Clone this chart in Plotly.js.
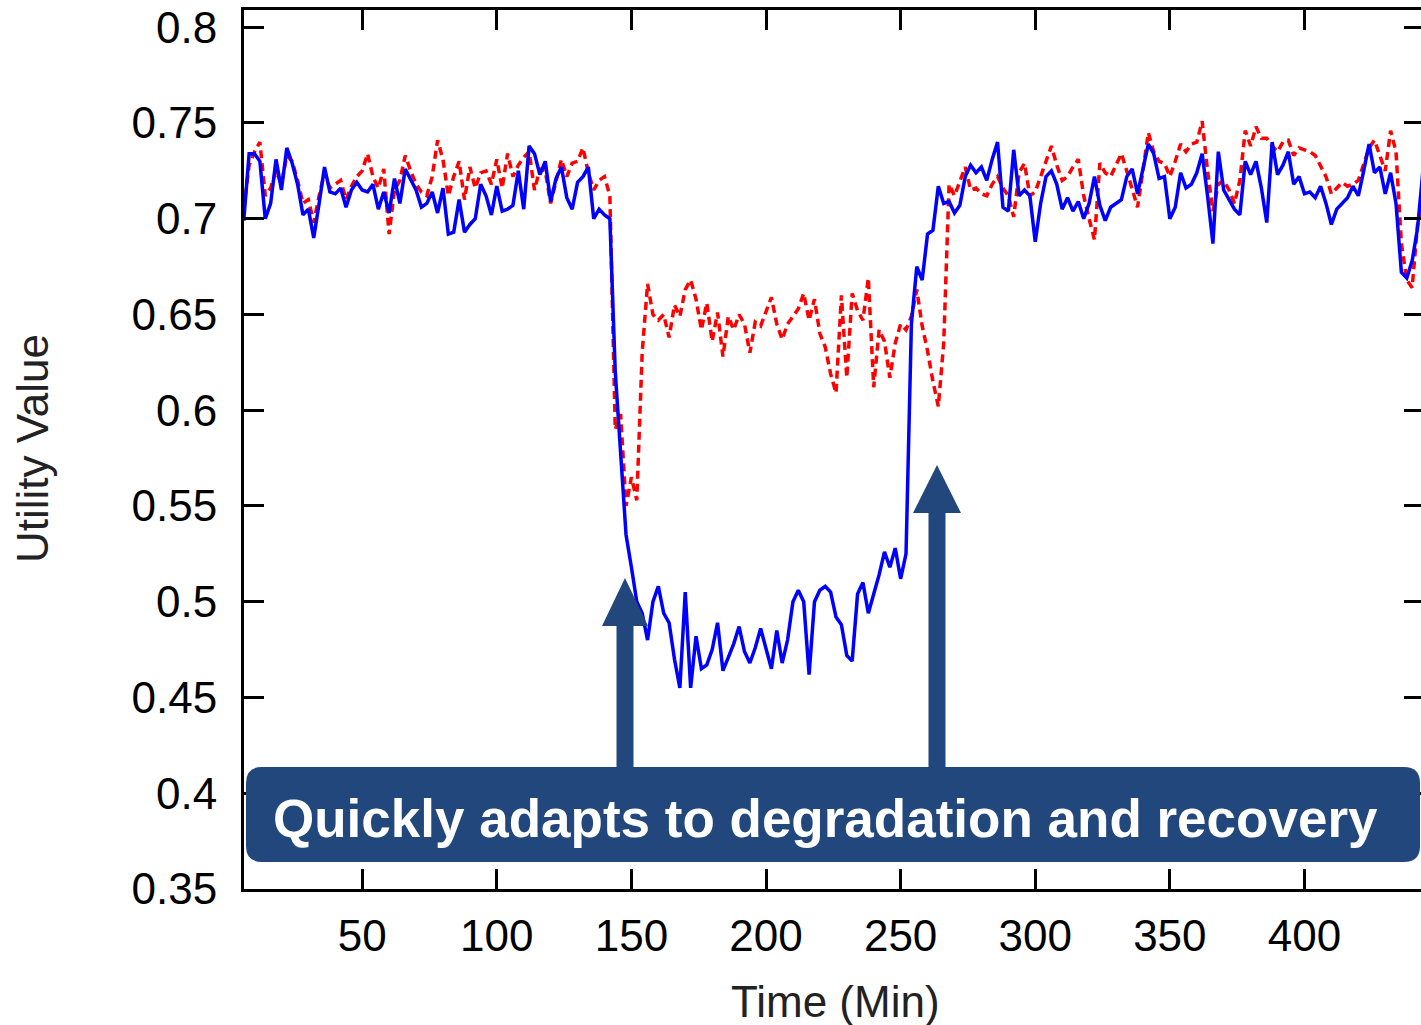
<!DOCTYPE html>
<html>
<head>
<meta charset="utf-8">
<script src="https://cdn.plot.ly/plotly-3.0.1.min.js"></script>
<style>
html,body{margin:0;padding:0;background:#fff;overflow:hidden;}
#chart{width:1424px;height:1025px;}
</style>
</head>
<body>
<div id="chart"></div>
<script>
// Time (minutes): first sample and sampling step
const timeStart = 6;
const timeStep = 2;

// Utility of the adaptive configuration (solid blue), t = 6, 8, ..., 444
const adaptiveUtility = [
  0.699,0.734,0.734,0.730,0.700,0.708,0.731,0.715,0.737,0.729,
  0.718,0.702,0.705,0.690,0.708,0.727,0.714,0.713,0.716,0.706,
  0.715,0.719,0.715,0.714,0.718,0.705,0.714,0.703,0.721,0.708,
  0.726,0.720,0.715,0.706,0.708,0.714,0.703,0.716,0.692,0.693,
  0.710,0.693,0.697,0.700,0.718,0.712,0.702,0.717,0.704,0.705,
  0.707,0.725,0.705,0.738,0.734,0.723,0.730,0.709,0.721,0.727,
  0.711,0.705,0.719,0.722,0.727,0.700,0.705,0.702,0.700,0.620,
  0.579,0.535,0.518,0.500,0.494,0.480,0.500,0.508,0.494,0.489,
  0.470,0.455,0.505,0.455,0.482,0.465,0.467,0.475,0.489,0.464,
  0.471,0.478,0.487,0.474,0.468,0.476,0.486,0.475,0.465,0.485,
  0.468,0.480,0.500,0.506,0.500,0.462,0.500,0.506,0.508,0.505,
  0.492,0.488,0.472,0.469,0.504,0.510,0.494,0.504,0.514,0.526,
  0.518,0.528,0.512,0.525,0.645,0.675,0.668,0.692,0.694,0.717,
  0.708,0.709,0.703,0.707,0.722,0.728,0.724,0.727,0.720,0.731,
  0.740,0.706,0.704,0.736,0.712,0.715,0.712,0.688,0.708,0.722,
  0.725,0.718,0.705,0.711,0.704,0.709,0.700,0.708,0.722,0.707,
  0.699,0.706,0.708,0.710,0.722,0.726,0.713,0.727,0.739,0.734,
  0.721,0.722,0.700,0.706,0.724,0.716,0.718,0.724,0.734,0.712,
  0.687,0.735,0.715,0.710,0.705,0.702,0.730,0.723,0.730,0.716,
  0.698,0.740,0.723,0.728,0.735,0.718,0.722,0.713,0.714,0.711,
  0.717,0.708,0.697,0.705,0.708,0.711,0.717,0.712,0.725,0.739,
  0.724,0.727,0.713,0.724,0.708,0.672,0.669,0.678,0.695,0.725
];

// Utility of the base configuration (dashed red), t = 6, 8, ..., 444
const baseUtility = [
  0.705,0.728,0.735,0.740,0.712,0.716,0.725,0.718,0.733,0.730,
  0.720,0.708,0.710,0.698,0.712,0.724,0.716,0.718,0.720,0.710,
  0.717,0.722,0.725,0.734,0.722,0.716,0.726,0.692,0.715,0.720,
  0.733,0.725,0.718,0.714,0.712,0.722,0.741,0.731,0.712,0.722,
  0.730,0.710,0.727,0.716,0.724,0.725,0.718,0.731,0.716,0.734,
  0.722,0.728,0.732,0.735,0.715,0.726,0.725,0.708,0.720,0.731,
  0.722,0.729,0.730,0.737,0.724,0.715,0.720,0.722,0.712,0.590,
  0.598,0.550,0.565,0.553,0.630,0.666,0.650,0.647,0.650,0.638,
  0.655,0.649,0.663,0.668,0.658,0.642,0.656,0.636,0.651,0.628,
  0.649,0.642,0.650,0.645,0.630,0.646,0.644,0.652,0.659,0.645,
  0.637,0.645,0.649,0.653,0.661,0.647,0.658,0.640,0.633,0.619,
  0.609,0.660,0.617,0.661,0.652,0.647,0.669,0.612,0.642,0.636,
  0.617,0.635,0.645,0.642,0.649,0.663,0.644,0.631,0.615,0.602,
  0.635,0.718,0.712,0.720,0.727,0.715,0.716,0.713,0.712,0.718,
  0.722,0.716,0.712,0.701,0.724,0.729,0.712,0.714,0.722,0.729,
  0.738,0.728,0.720,0.722,0.727,0.731,0.712,0.700,0.689,0.729,
  0.724,0.722,0.728,0.734,0.725,0.716,0.706,0.725,0.745,0.735,
  0.730,0.729,0.722,0.730,0.739,0.735,0.739,0.740,0.751,0.725,
  0.704,0.718,0.720,0.715,0.708,0.720,0.746,0.738,0.748,0.742,
  0.742,0.738,0.735,0.740,0.741,0.733,0.737,0.736,0.735,0.733,
  0.727,0.722,0.713,0.716,0.719,0.717,0.718,0.720,0.728,0.737,
  0.741,0.733,0.725,0.746,0.735,0.687,0.668,0.664,0.697,0.705
];

const xTickVals = [50,100,150,200,250,300,350,400];
const xTickText = ['50','100','150','200','250','300','350','400'];
const yTickVals = [0.35,0.4,0.45,0.5,0.55,0.6,0.65,0.7,0.75,0.8];
const yTickText = ['0.35','0.4','0.45','0.5','0.55','0.6','0.65','0.7','0.75','0.8'];

const xTitle = 'Time (Min)';
const yTitle = 'Utility Value';
const calloutText = 'Quickly adapts to degradation and recovery';

// ---- layout geometry (pixels) ----
const W = 1424, H = 1025;
const mL = 244, mR = 0, mT = 10, mB = 136;
const pw = W - mL - mR, ph = H - mT - mB;
const px = v => ((v - mL) / pw).toFixed(5);
const py = v => ((H - mB - v) / ph).toFixed(5);
function pathFromPx(cmds) {
  return cmds.map(c => {
    if (c[0] === 'Z') return 'Z';
    const parts = [c[0]];
    for (let i = 1; i < c.length; i += 2) parts.push(px(c[i]) + ',' + py(c[i + 1]));
    return parts.join(' ');
  }).join(' ');
}
function roundRect(x0, y0, x1, y1, r) {
  return pathFromPx([
    ['M', x0 + r, y0], ['L', x1 - r, y0], ['Q', x1, y0, x1, y0 + r],
    ['L', x1, y1 - r], ['Q', x1, y1, x1 - r, y1], ['L', x0 + r, y1],
    ['Q', x0, y1, x0, y1 - r], ['L', x0, y0 + r], ['Q', x0, y0, x0 + r, y0], ['Z']
  ]);
}
function upArrow(cx, tipY, baseY, headBaseY, shaftHalf, headHalf) {
  return pathFromPx([
    ['M', cx - shaftHalf, baseY], ['L', cx - shaftHalf, headBaseY], ['L', cx - headHalf, headBaseY],
    ['L', cx, tipY], ['L', cx + headHalf, headBaseY], ['L', cx + shaftHalf, headBaseY],
    ['L', cx + shaftHalf, baseY], ['Z']
  ]);
}
const navy = '#22477c';
const fontFam = 'Liberation Sans, Arial, Helvetica, sans-serif';

const traces = [
  {
    type: 'scatter', mode: 'lines', name: 'Base Configuration/ Base Utility',
    x0: timeStart, dx: timeStep, y: baseUtility,
    line: {color: '#ff0000', width: 3.5, dash: '8px,5px'}
  },
  {
    type: 'scatter', mode: 'lines', name: 'Adaptive',
    x0: timeStart, dx: timeStep, y: adaptiveUtility,
    line: {color: '#0000ff', width: 3.5}
  }
];

const axisFont = {family: fontFam, size: 44, color: '#000'};

const layout = {
  width: W, height: H,
  margin: {l: mL, r: mR, t: mT, b: mB, pad: 0},
  paper_bgcolor: '#fff', plot_bgcolor: '#fff',
  showlegend: false,
  xaxis: {
    range: [6.1, 444.4], tickmode: 'array', tickvals: xTickVals, ticktext: xTickText,
    ticks: 'inside', ticklen: 20, tickwidth: 3, tickcolor: '#000',
    showline: true, linewidth: 3, linecolor: '#000', mirror: 'ticks',
    showgrid: false, zeroline: false, tickfont: axisFont, ticklabelstandoff: 6
  },
  yaxis: {
    range: [0.35, 0.809], tickmode: 'array', tickvals: yTickVals, ticktext: yTickText,
    ticks: 'inside', ticklen: 20, tickwidth: 3, tickcolor: '#000',
    showline: true, linewidth: 3, linecolor: '#000', mirror: 'ticks',
    showgrid: false, zeroline: false, tickfont: axisFont, ticklabelstandoff: 15
  },
  shapes: [
    {type: 'path', xref: 'paper', yref: 'paper', layer: 'above',
     path: upArrow(625, 578, 772, 626, 8.5, 23), fillcolor: navy, line: {width: 0}},
    {type: 'path', xref: 'paper', yref: 'paper', layer: 'above',
     path: upArrow(937, 465, 772, 513, 8.5, 24), fillcolor: navy, line: {width: 0}},
    {type: 'path', xref: 'paper', yref: 'paper', layer: 'above',
     path: roundRect(246, 767, 1420, 862, 16), fillcolor: navy, line: {width: 0}}
  ],
  annotations: [
    {xref: 'paper', yref: 'paper', x: px(826), y: py(818), xanchor: 'center', yanchor: 'middle',
     text: '<b>' + calloutText + '</b>', showarrow: false,
     font: {family: fontFam, size: 53, color: '#fff'}},
    {xref: 'paper', yref: 'paper', x: px(835), y: py(1001), xanchor: 'center', yanchor: 'middle',
     text: xTitle, showarrow: false,
     font: {family: fontFam, size: 44, color: '#222'}},
    {xref: 'paper', yref: 'paper', x: px(33), y: py(449), xanchor: 'center', yanchor: 'middle',
     text: yTitle, showarrow: false, textangle: -90,
     font: {family: fontFam, size: 44, color: '#222'}}
  ]
};

Plotly.newPlot('chart', traces, layout, {displayModeBar: false, staticPlot: true});
</script>
</body>
</html>
